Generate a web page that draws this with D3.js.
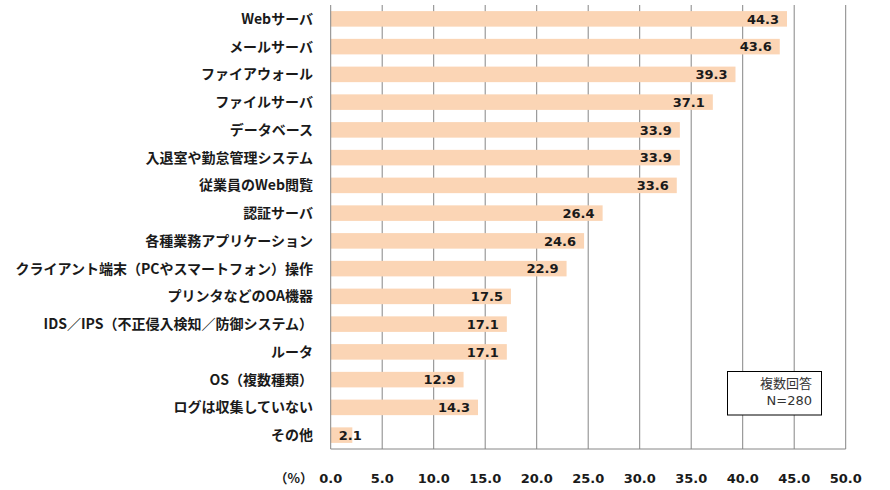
<!DOCTYPE html>
<html>
<head>
<meta charset="utf-8">
<script src="https://cdn.jsdelivr.net/npm/d3@7"></script>
<style>
  body { margin: 0; background: #fff; }
  svg { display: block; }
</style>
</head>
<body>
<svg id="chart" width="890" height="490"></svg>
<script>
const categories = [
  "Webサーバ", "メールサーバ", "ファイアウォール", "ファイルサーバ", "データベース",
  "入退室や勤怠管理システム", "従業員のWeb閲覧", "認証サーバ", "各種業務アプリケーション",
  "クライアント端末（PCやスマートフォン）操作", "プリンタなどのOA機器",
  "IDS／IPS（不正侵入検知／防御システム）", "ルータ", "OS（複数種類）",
  "ログは収集していない", "その他"
];
const values = [44.3, 43.6, 39.3, 37.1, 33.9, 33.9, 33.6, 26.4, 24.6, 22.9, 17.5, 17.1, 17.1, 12.9, 14.3, 2.1];
const ticks = [0, 5, 10, 15, 20, 25, 30, 35, 40, 45, 50];
const noteLines = ["複数回答", "N=280"];

const svg = d3.select("#chart");
const jp = "'Noto Sans CJK JP', 'Noto Sans', sans-serif";
const num = "'DejaVu Sans', Verdana, sans-serif";

const x = d3.scaleLinear().domain([0, 50]).range([330.7, 845.7]);
const y = d3.scaleBand().domain(categories).range([5, 449])
    .paddingInner(0.44).paddingOuter(0.22);

// gridlines
svg.append("g")
  .selectAll("line")
  .data(ticks.slice(1))
  .join("line")
    .attr("x1", d => x(d)).attr("x2", d => x(d))
    .attr("y1", 5).attr("y2", 449)
    .attr("stroke", "#868686").attr("stroke-width", 1);

// bars
svg.append("g")
  .selectAll("rect")
  .data(values)
  .join("rect")
    .attr("x", x(0))
    .attr("y", (_, i) => y(categories[i]))
    .attr("width", d => x(d) - x(0))
    .attr("height", y.bandwidth())
    .attr("fill", "#fbd5b5");

// axis lines
svg.append("line")
  .attr("x1", x(0)).attr("x2", x(0)).attr("y1", 5).attr("y2", 449)
  .attr("stroke", "#868686");
svg.append("line")
  .attr("x1", x(0)).attr("x2", x(50)).attr("y1", 449).attr("y2", 449)
  .attr("stroke", "#868686");

// value labels
svg.append("g")
  .selectAll("text")
  .data(values)
  .join("text")
    .attr("y", (_, i) => y(categories[i]) + y.bandwidth() / 2)
    .attr("dy", "0.36em")
    .attr("text-anchor", "end")
    .attr("font-family", num)
    .attr("font-size", 13)
    .attr("font-weight", "bold")
    .attr("fill", "#1a1a1a")
    .text(d => d.toFixed(1))
    .each(function(d) {
      const w = this.getComputedTextLength();
      d3.select(this).attr("x", Math.max(x(d) - 8, x(0) + 8 + w));
    });

// category labels
svg.append("g")
  .selectAll("text")
  .data(categories)
  .join("text")
    .attr("x", 313)
    .attr("y", d => y(d) + y.bandwidth() / 2)
    .attr("dy", "0.36em")
    .attr("text-anchor", "end")
    .attr("font-family", jp)
    .attr("font-size", 14)
    .attr("font-weight", "bold")
    .attr("fill", "#1a1a1a")
    .text(d => d);

// x tick labels
svg.append("g")
  .selectAll("text")
  .data(ticks)
  .join("text")
    .attr("x", d => x(d))
    .attr("y", 483)
    .attr("text-anchor", "middle")
    .attr("font-family", num)
    .attr("font-size", 13)
    .attr("font-weight", "bold")
    .attr("fill", "#1a1a1a")
    .text(d => d.toFixed(1));

svg.append("text")
  .attr("x", 313).attr("y", 483)
  .attr("text-anchor", "end")
  .attr("font-family", jp)
  .attr("font-size", 13)
  .attr("font-weight", "bold")
  .attr("fill", "#1a1a1a")
  .text("（%）");

// note box
svg.append("rect")
  .attr("x", 727.5).attr("y", 371.5)
  .attr("width", 94).attr("height", 43.5)
  .attr("fill", "#fff").attr("stroke", "#000");
svg.append("g")
  .selectAll("text")
  .data(noteLines)
  .join("text")
    .attr("x", 812)
    .attr("y", (_, i) => 388 + i * 17)
    .attr("text-anchor", "end")
    .attr("font-family", (_, i) => i === 0 ? jp : num)
    .attr("font-size", 13)
    .attr("fill", "#333")
    .text(d => d);
</script>
</body>
</html>
